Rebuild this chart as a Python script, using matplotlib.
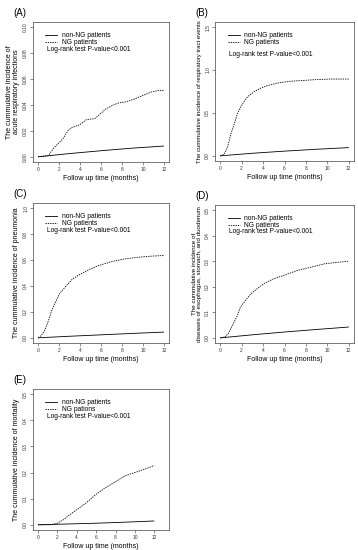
import matplotlib
matplotlib.use("Agg")
import matplotlib.pyplot as plt
import numpy as np

# ---------------- data ----------------
xA_ng = [0, 1.0, 1.47, 1.94, 2.4, 2.9, 3.34, 3.97, 4.6, 4.9, 5.4, 5.84, 6.47, 7.1, 7.7, 8.3, 8.97, 9.6, 10.2, 10.8, 11.5, 12]
yA_ng = [0, 0.001, 0.0065, 0.0104, 0.0143, 0.0208, 0.023, 0.0247, 0.0286, 0.029, 0.0294, 0.0325, 0.037, 0.0397, 0.0416, 0.0423, 0.044, 0.046, 0.048, 0.050, 0.0512, 0.0512]
xA_non = [0, 3, 6, 9, 12]
yA_non = [0, 0.0025, 0.0047, 0.0067, 0.0083]

xB_ng = [0, 0.375, 0.69, 1.0, 1.31, 1.6, 2.1, 2.56, 3.2, 3.8, 4.44, 5.4, 6.6, 7.9, 9.1, 10.4, 12]
yB_ng = [0, 0.02, 0.10, 0.255, 0.37, 0.49, 0.61, 0.69, 0.75, 0.79, 0.82, 0.85, 0.87, 0.88, 0.89, 0.895, 0.895]
xB_non = [0, 3, 6, 9, 12]
yB_non = [0, 0.03, 0.055, 0.077, 0.096]

xC_ng = [0, 0.31, 0.63, 0.94, 1.26, 1.57, 2.04, 2.67, 3.3, 3.93, 4.87, 5.8, 7.07, 8.3, 9.6, 10.8, 12]
yC_ng = [0, 0.018, 0.057, 0.12, 0.2, 0.26, 0.34, 0.40, 0.455, 0.486, 0.527, 0.558, 0.589, 0.609, 0.622, 0.63, 0.635]
xC_non = [0, 3, 6, 9, 12]
yC_non = [0, 0.012, 0.023, 0.034, 0.044]

xD_ng = [0, 0.47, 0.79, 1.1, 1.57, 1.9, 2.2, 2.83, 3.46, 4.1, 5.03, 5.97, 7.2, 8.5, 9.75, 11, 12]
yD_ng = [0, 0.004, 0.019, 0.045, 0.084, 0.122, 0.138, 0.171, 0.193, 0.213, 0.232, 0.245, 0.264, 0.277, 0.29, 0.296, 0.30]
xD_non = [0, 3, 6, 9, 12]
yD_non = [0, 0.012, 0.023, 0.033, 0.0425]

xE_ng = [0, 1.25, 2.0, 2.6, 3.3, 4.0, 4.98, 6.0, 7.0, 8.0, 9.0, 10.07, 11.08, 12]
yE_ng = [0, 0, 0.006, 0.019, 0.039, 0.058, 0.084, 0.117, 0.143, 0.165, 0.188, 0.201, 0.214, 0.227]
xE_non = [0, 2, 6, 9, 12]
yE_non = [0, 0.002, 0.006, 0.010, 0.0145]

panel_labels = ["(A)", "(B)", "(C)", "(D)", "(E)"]
ylabels = [
    "The cummulative incidence of\nacute respiratory infections",
    "The cummulative incidence of respiratory tract events",
    "The cummulative incidence of pneumonia",
    "The cummulative incidence of\ndiseases of esophagus, stomach, and duodenum",
    "The cummulative incidence of mortality",
]
ylabel_sizes = [5, 4.3, 5, 4.5, 5]
yticks_list = [
    [0.00, 0.02, 0.04, 0.06, 0.08, 0.10],
    [0.0, 0.5, 1.0, 1.5],
    [0.0, 0.2, 0.4, 0.6, 0.8, 1.0],
    [0.0, 0.1, 0.2, 0.3, 0.4, 0.5],
    [0.0, 0.1, 0.2, 0.3, 0.4, 0.5],
]
ytick_fmt = ["%.2f", "%.1f", "%.1f", "%.1f", "%.1f"]
xticks = [0, 2, 4, 6, 8, 10, 12]
xmax_list = [12, 12, 12, 12, 13]
legend_ng = ["NG patients", "NG patients", "NG patients", "NG patients", "NG pations"]
legend_non = "non-NG patients"
logrank = "Log-rank test P-value<0.001"
xlabel = "Follow up time (months)"

series = [
    (xA_ng, yA_ng, xA_non, yA_non),
    (xB_ng, yB_ng, xB_non, yB_non),
    (xC_ng, yC_ng, xC_non, yC_non),
    (xD_ng, yD_ng, xD_non, yD_non),
    (xE_ng, yE_ng, xE_non, yE_non),
]

# ---------------- layout ----------------
W, H = 358, 550
fig = plt.figure(figsize=(W / 100, H / 100), dpi=100)
plt.rcParams['font.family'] = ['Liberation Sans', 'DejaVu Sans']

# boxes in pixels: left, top, width, height
boxes = [
    (33, 22, 136, 140),
    (215, 22, 139, 139),
    (33, 203, 136, 140),
    (215, 205, 139, 138),
    (33, 389, 136, 141),
]

for i, (l, t, w, h) in enumerate(boxes):
    ax = fig.add_axes([l / W, 1 - (t + h) / H, w / W, h / H])
    xng, yng, xnon, ynon = series[i]
    ax.plot(xnon, ynon, color="black", lw=0.6, solid_capstyle="butt")
    ax.plot(xng, yng, color="black", lw=0.6, linestyle=(0, (1.6, 1.2)))
    xmax = xmax_list[i]
    pad = 0.04 * xmax
    ax.set_xlim(-pad, xmax + pad)
    yt = yticks_list[i]
    ypad = 0.04 * yt[-1]
    ax.set_ylim(-ypad, yt[-1] + ypad)
    ax.set_xticks(xticks)
    ax.set_xticklabels([str(v) for v in xticks], fontsize=3.5)
    ax.set_yticks(yt)
    ax.set_yticklabels([ytick_fmt[i] % v for v in yt], fontsize=3.5, rotation=90, va="center")
    ax.tick_params(length=2, width=0.4, pad=1.5, color="#333333", labelcolor="#333333")
    for s in ax.spines.values():
        s.set_linewidth(0.5)
        s.set_color("#444444")
    ax.set_xlabel(xlabel, fontsize=5, labelpad=2.5)
    ax.set_ylabel(ylabels[i], fontsize=ylabel_sizes[i], labelpad=2, linespacing=1.0)

    # legend (R style, drawn in axes coordinates)
    lx0, lx1, tx = 0.09, 0.18, 0.21
    ax.plot([lx0, lx1], [0.905, 0.905], transform=ax.transAxes, color="black", lw=0.6)
    ax.plot([lx0, lx1], [0.855, 0.855], transform=ax.transAxes, color="black", lw=0.6,
            linestyle=(0, (1.6, 1.2)))
    ax.text(tx, 0.905, legend_non, transform=ax.transAxes, fontsize=4.8, va="center", ha="left")
    ax.text(tx, 0.855, legend_ng[i], transform=ax.transAxes, fontsize=4.8, va="center", ha="left")
    ly = 0.805 if i != 1 else 0.765
    ax.text(0.1, ly, logrank, transform=ax.transAxes, fontsize=4.8, va="center", ha="left")

    fig.text((l - 20) / W, 1 - (t - 9) / H, panel_labels[i], fontsize=7, ha="left", va="center")

fig.savefig("out.png", dpi=100)
